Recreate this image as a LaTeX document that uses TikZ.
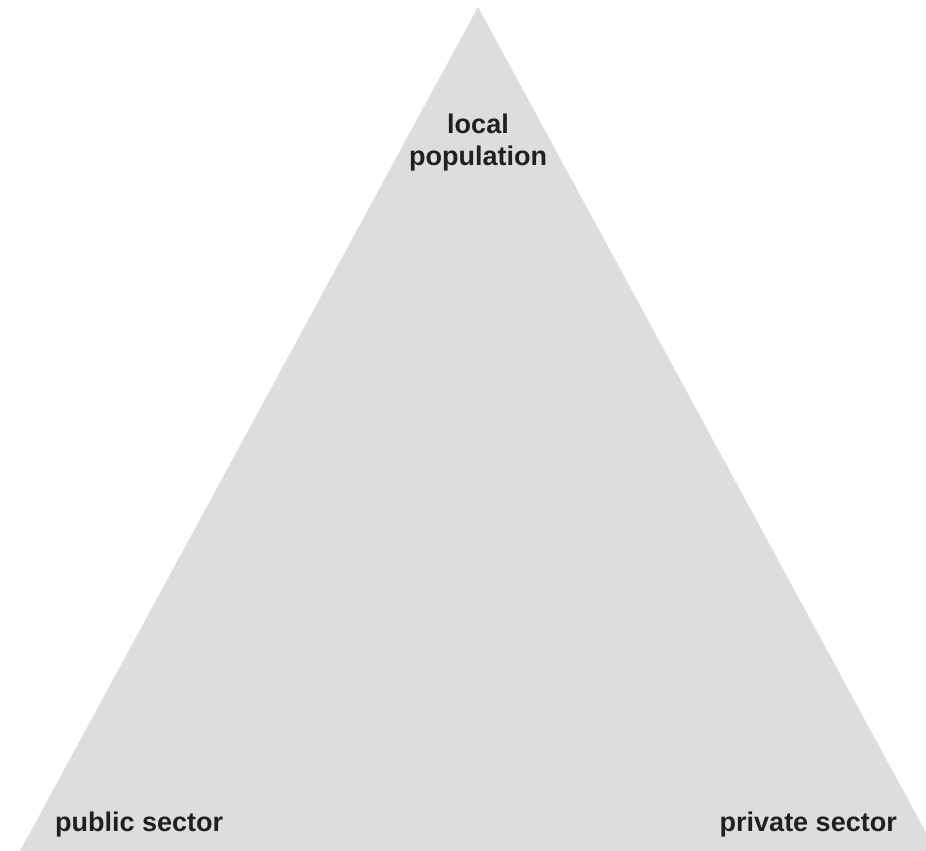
\documentclass[tikz,border=0pt]{standalone}
\usepackage{fontspec}
\setmainfont{Liberation Sans}
\definecolor{trifill}{HTML}{DCDDDD}
\definecolor{txt}{HTML}{231F20}
\begin{document}
\begin{tikzpicture}[x=1pt,y=-1pt,
  lbl/.style={font=\bfseries\fontsize{27}{32}\selectfont, text=txt, inner sep=0pt}]
\useasboundingbox (0,0) rectangle (926,851);
\begin{scope}
\clip (0,0) rectangle (926,851);
\coordinate (top) at (478,7);
\coordinate (bl) at (20,851);
\coordinate (br) at (936,851);
\fill[trifill] (top) -- (bl) -- (br) -- cycle;
\end{scope}
\node[lbl, anchor=base west] (pub) at (55,831) {public sector};
\node[lbl, anchor=base east] (priv) at (897,831) {private sector};
\node[lbl, anchor=base, align=center] (loc) at (478,165) {local\\population};
\end{tikzpicture}
\end{document}
